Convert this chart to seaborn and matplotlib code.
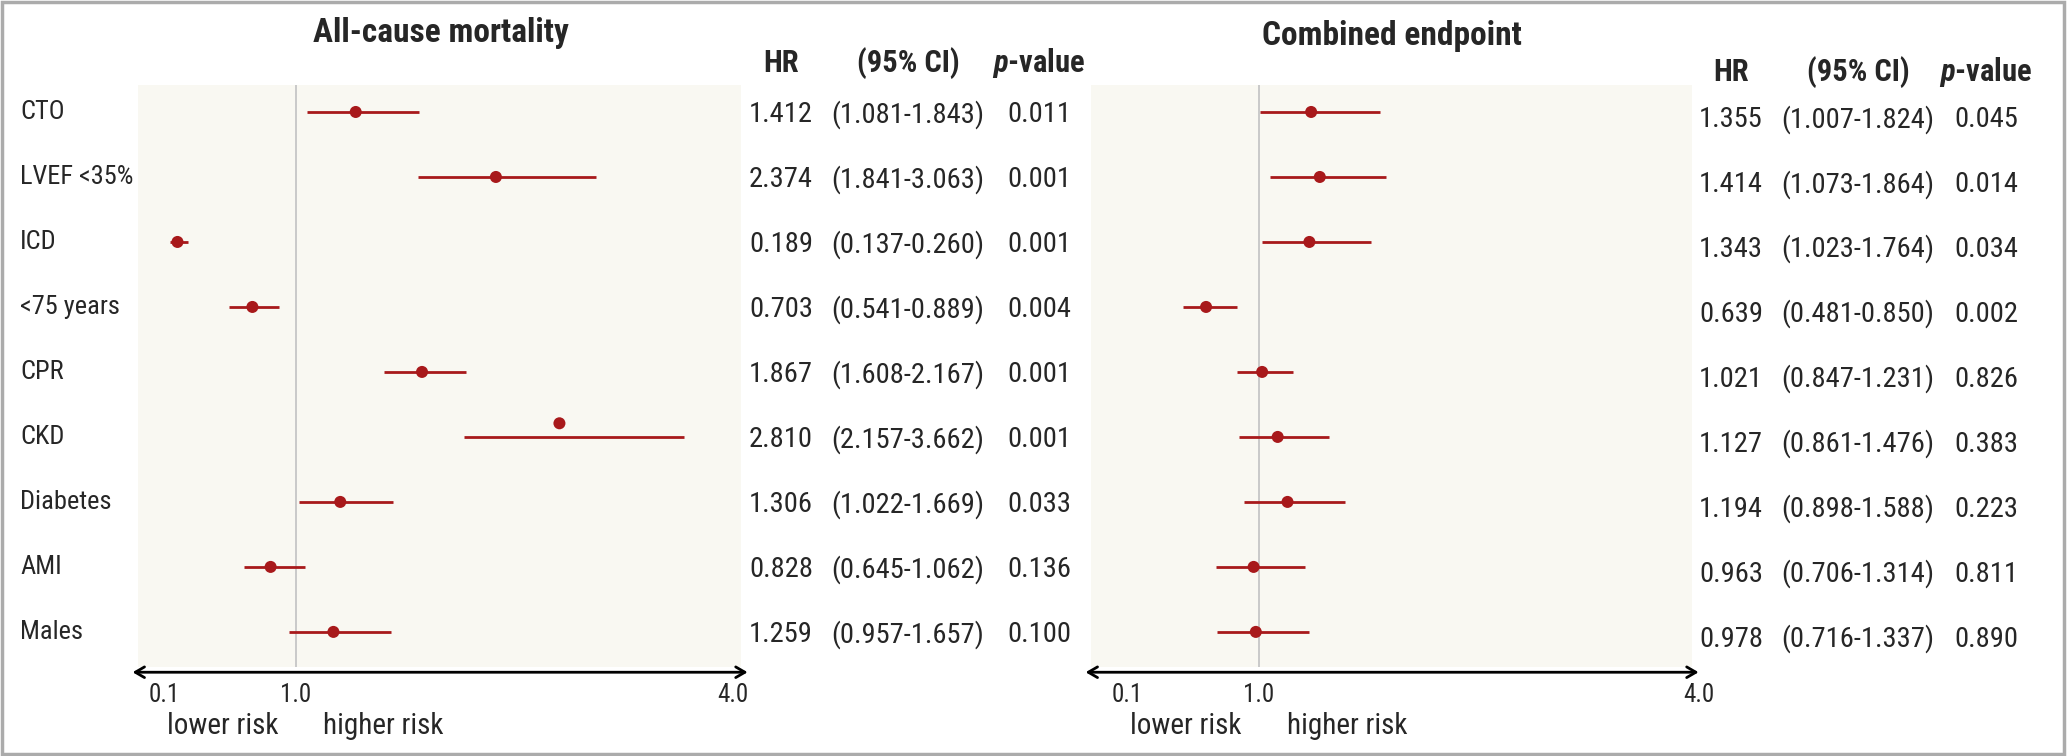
import matplotlib
matplotlib.use("Agg")
import matplotlib.pyplot as plt
from matplotlib import font_manager, transforms
from matplotlib.patches import Rectangle
import seaborn as sns
import pandas as pd

# ── datos ──
variables = ["CTO", "LVEF <35%", "ICD", "<75 years", "CPR", "CKD", "Diabetes", "AMI", "Males"]

mort_hr = [1.412, 2.374, 0.189, 0.703, 1.867, 2.810, 1.306, 0.828, 1.259]
mort_lo = [1.081, 1.841, 0.137, 0.541, 1.608, 2.157, 1.022, 0.645, 0.957]
mort_hi = [1.843, 3.063, 0.260, 0.889, 2.167, 3.662, 1.669, 1.062, 1.657]
mort_p = ["0.011", "0.001", "0.001", "0.004", "0.001", "0.001", "0.033", "0.136", "0.100"]

comb_hr = [1.355, 1.414, 1.343, 0.639, 1.021, 1.127, 1.194, 0.963, 0.978]
comb_lo = [1.007, 1.073, 1.023, 0.481, 0.847, 0.861, 0.898, 0.706, 0.716]
comb_hi = [1.824, 1.864, 1.764, 0.850, 1.231, 1.476, 1.588, 1.314, 1.337]
comb_p = ["0.045", "0.014", "0.034", "0.002", "0.826", "0.383", "0.223", "0.811", "0.890"]

axis_ticks = [0.1, 1.0, 4.0]

RED = "#a8191b"
BG = "#f9f8f2"

sns.set_theme(style="white")
names = {f.name for f in font_manager.fontManager.ttflist}
FONT = next((n for n in ["Liberation Sans Narrow", "Roboto Condensed", "Open Sans Condensed"]
             if n in names), "DejaVu Sans")
plt.rcParams["font.family"] = [FONT, "DejaVu Sans"]
plt.rcParams["mathtext.fontset"] = "custom"
plt.rcParams["mathtext.rm"] = FONT
plt.rcParams["mathtext.it"] = f"{FONT}:italic"
plt.rcParams["mathtext.bf"] = f"{FONT}:bold"
plt.rcParams["mathtext.bfit"] = f"{FONT}:italic:bold"

W, H = 2067, 756
fig = plt.figure(figsize=(W / 100, H / 100), dpi=100)
fig.patch.set_facecolor("white")


def px(x0, y0, w, h):
    """rectángulo en píxeles (desde arriba) -> fracción de figura"""
    return [x0 / W, 1 - (y0 + h) / H, w / W, h / H]


def panel(rect, xlim, df, title, title_xy, cols, col_y, num_dy, dot_shift=None):
    ax = fig.add_axes(rect)
    ax.set_facecolor(BG)
    ax.set_xlim(*xlim)
    ax.set_ylim(len(df) - 0.46, -0.415)
    for s in ax.spines.values():
        s.set_visible(False)
    ax.set_xticks([])
    ax.set_yticks([])

    ax.axvline(1.0, color="#c6c6c6", lw=1.3, zorder=1)
    ax.hlines(df["row"], df["lo"], df["hi"], color=RED, lw=2.0, zorder=2)
    y_dot = df["row"] if dot_shift is None else df["row"] + pd.Series(dot_shift)
    sns.scatterplot(x=df["hr"], y=y_dot, ax=ax, color=RED, s=75,
                    edgecolor="none", zorder=3, legend=False)
    ax.set_xlabel("")
    ax.set_ylabel("")

    # flecha del eje
    ax.annotate("", xy=(1.011, -0.009), xytext=(-0.009, -0.009),
                xycoords="axes fraction",
                arrowprops=dict(arrowstyle="<->,head_length=0.55,head_width=0.32",
                                lw=2.0, color="black", shrinkA=0, shrinkB=0))
    tr = transforms.blended_transform_factory(ax.transData, ax.transAxes)
    for t in axis_ticks:
        ax.text(t, -0.048, f"{t:.1f}", transform=tr, ha="center", va="center",
                fontsize=18, clip_on=False)
    ax.text(0.5, -0.102, "lower risk", transform=tr, ha="center", va="center",
            fontsize=21, clip_on=False)
    ax.text(1.6, -0.102, "higher risk", transform=tr, ha="center", va="center",
            fontsize=21, clip_on=False)

    fig.text(title_xy[0] / W, 1 - title_xy[1] / H, title, ha="center", va="center",
             fontsize=24, fontweight="bold")

    # columnas HR / IC / p
    hx, cx, pxx = cols
    fig.text(hx / W, 1 - col_y / H, "HR", ha="center", va="center",
             fontsize=22, fontweight="bold")
    fig.text(cx / W, 1 - col_y / H, "(95% CI)", ha="center", va="center",
             fontsize=22, fontweight="bold")
    fig.text(pxx / W, 1 - col_y / H, r"$\bfit{p}$-value", ha="center", va="center",
             fontsize=22, fontweight="bold")
    trn = transforms.blended_transform_factory(fig.transFigure, ax.transData)
    for _, r in df.iterrows():
        y = r["row"] + num_dy
        ax.text(hx / W, y, f"{r['hr']:.3f}", transform=trn, ha="center", va="center",
                fontsize=20.5, clip_on=False)
        ax.text(cx / W, y, f"({r['lo']:.3f}-{r['hi']:.3f})", transform=trn,
                ha="center", va="center", fontsize=20.5, clip_on=False)
        ax.text(pxx / W, y, r["p"], transform=trn, ha="center", va="center",
                fontsize=20.5, clip_on=False)
    return ax


df_mort = pd.DataFrame({"var": variables, "hr": mort_hr, "lo": mort_lo,
                        "hi": mort_hi, "p": mort_p, "row": range(len(variables))})
df_comb = pd.DataFrame({"var": variables, "hr": comb_hr, "lo": comb_lo,
                        "hi": comb_hi, "p": comb_p, "row": range(len(variables))})

# el punto de CKD aparece desplazado hacia arriba en el original
ckd_shift = [0, 0, 0, 0, 0, -0.21, 0, 0, 0]

ax1 = panel(px(138, 85, 603, 582), (-0.082, 4.056), df_mort, "All-cause mortality",
            (441, 33), (781, 908, 1039), 63, 0.04, dot_shift=ckd_shift)
ax2 = panel(px(1091, 85, 601, 582), (-0.145, 3.95), df_comb, "Combined endpoint",
            (1392, 36), (1731, 1858, 1986), 72, 0.11)

# etiquetas de filas
trl = transforms.blended_transform_factory(fig.transFigure, ax1.transData)
for i, v in enumerate(variables):
    ax1.text(20 / W, i, v, transform=trl, ha="left", va="center", fontsize=19,
             clip_on=False)

# marco gris
fig.patches.append(Rectangle((1.5 / W, 2.5 / H), 2062 / W, 752 / H,
                             transform=fig.transFigure, fill=False,
                             edgecolor="#ababab", lw=2.5))

fig.savefig("out.png", dpi=100)
